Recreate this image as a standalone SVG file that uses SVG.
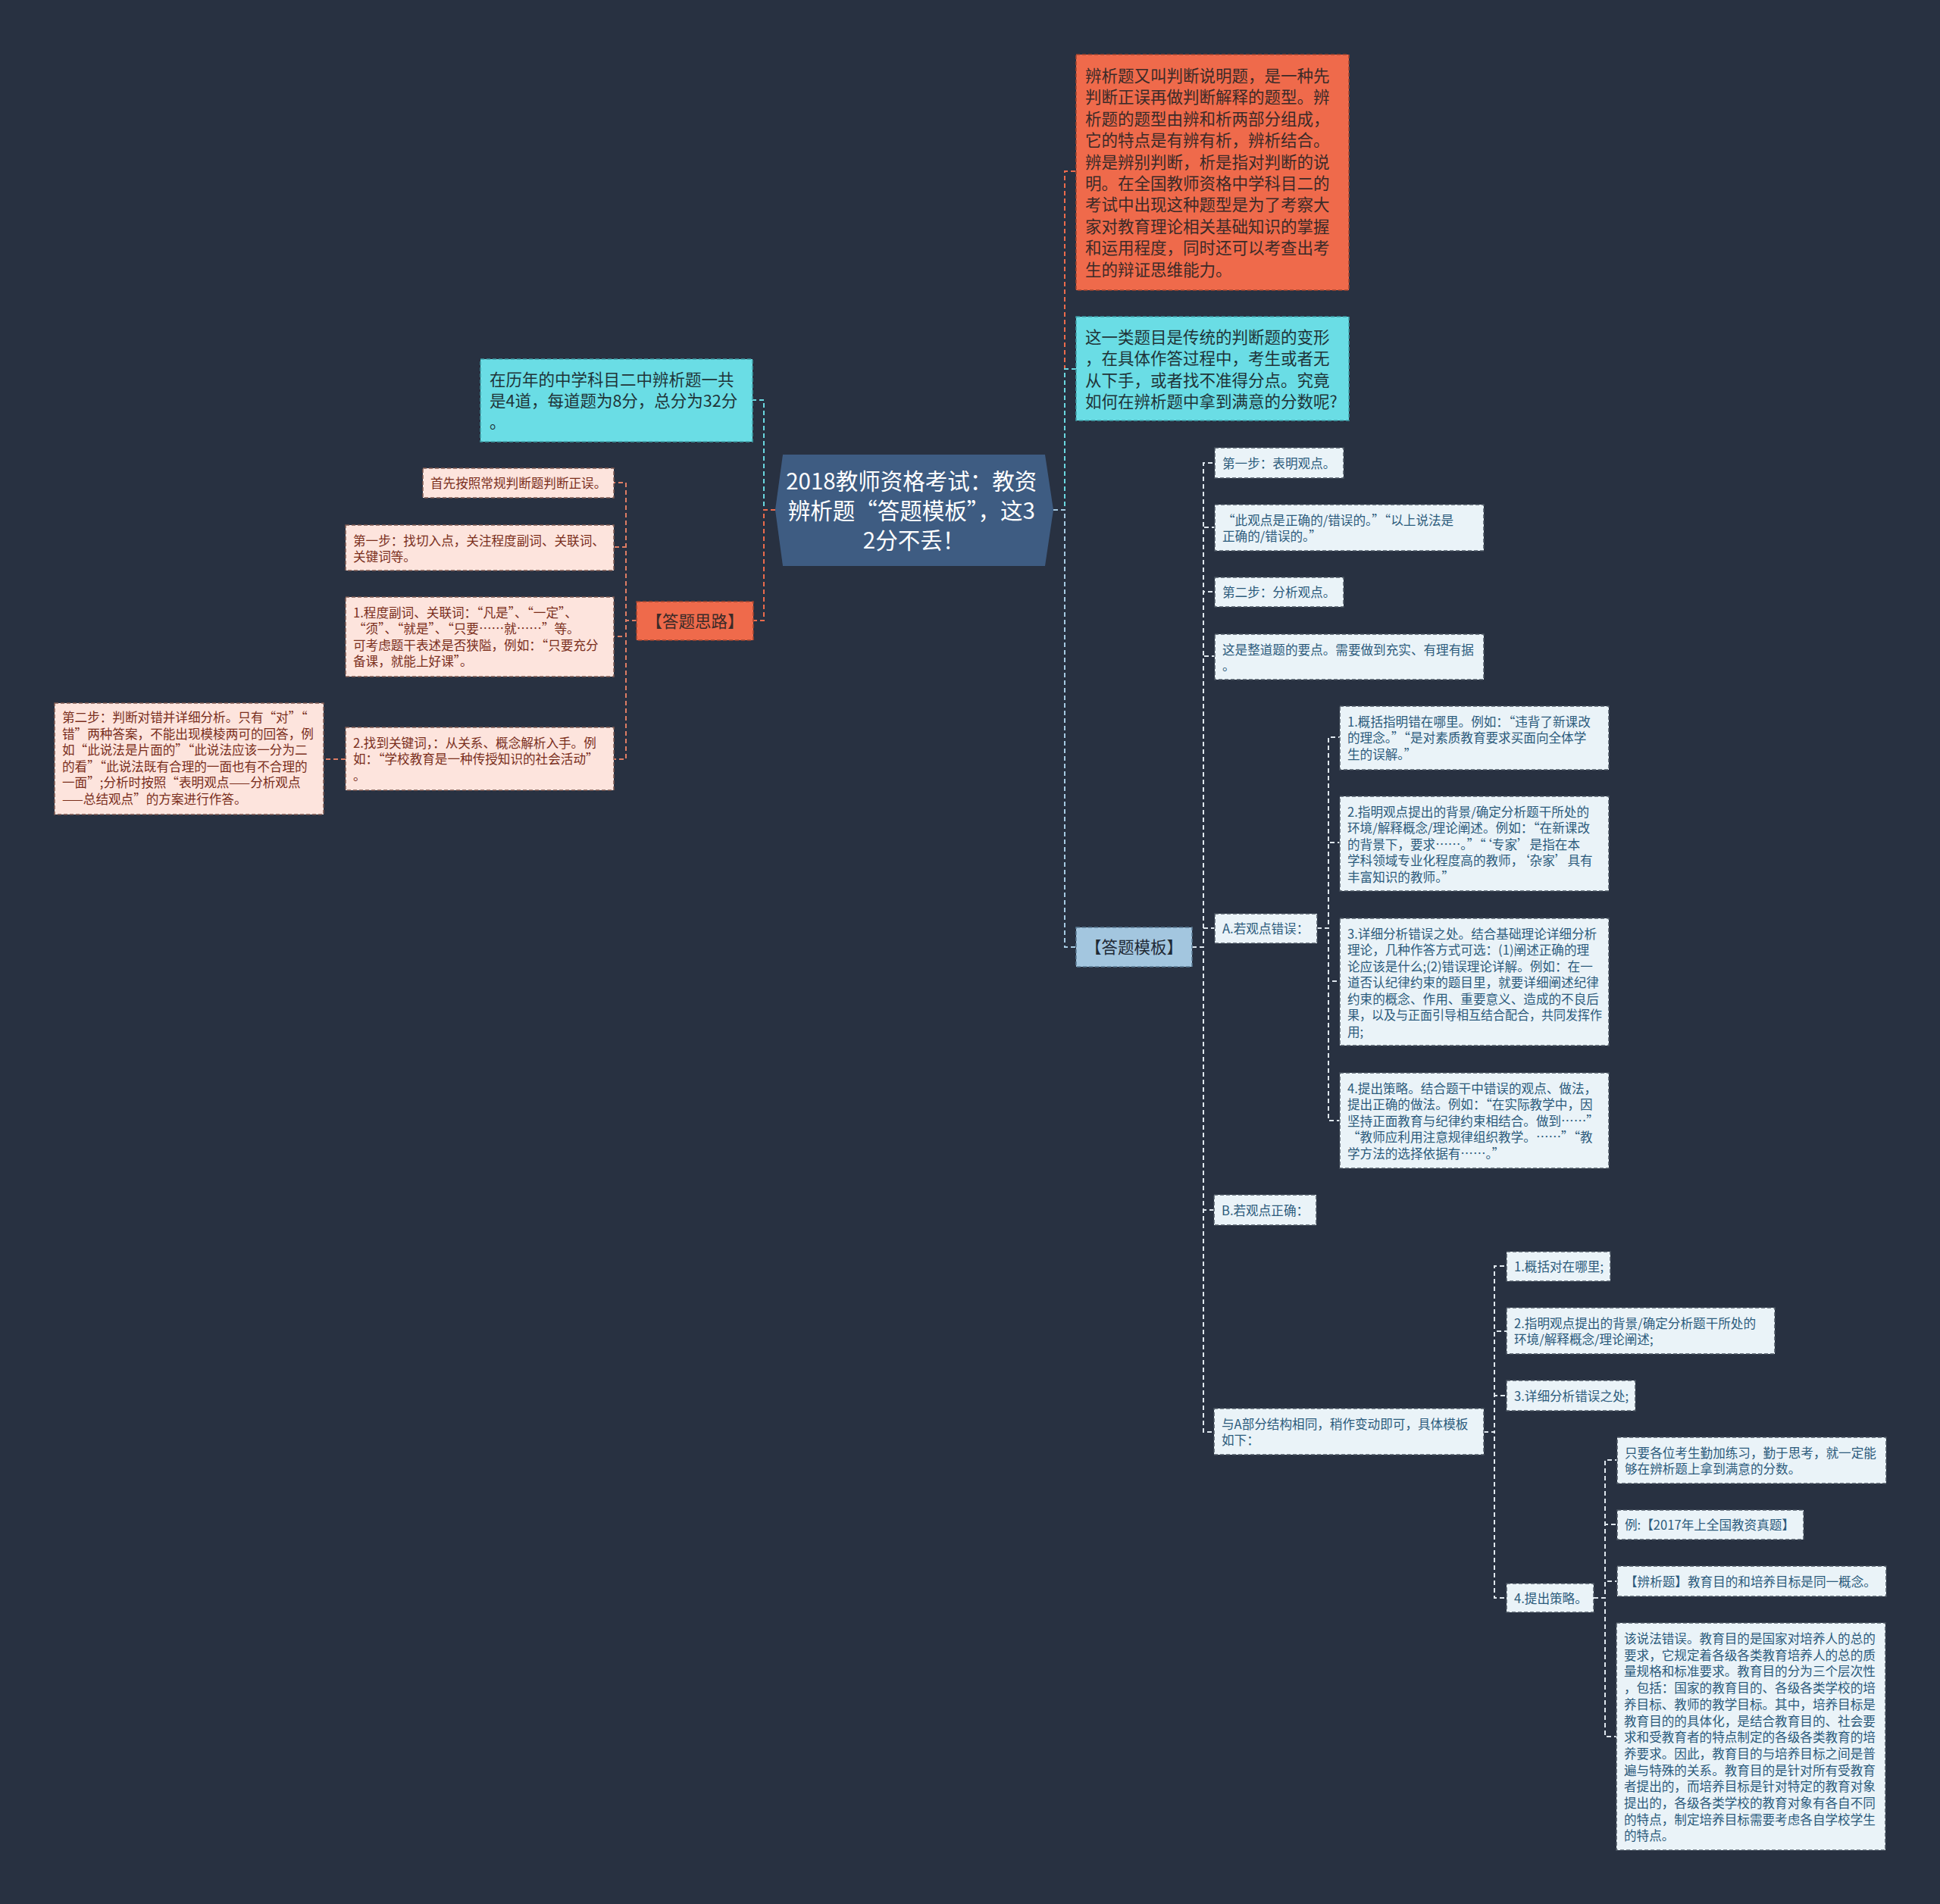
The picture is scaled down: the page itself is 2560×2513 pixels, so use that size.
<svg xmlns="http://www.w3.org/2000/svg" width="2560" height="2513" viewBox="0 0 2560 2513">
<style>
.t{font-family:"Noto Sans CJK SC","Noto Sans",sans-serif}
.s{font-size:16.6px}
.b{font-size:21.5px}
.nr{fill:#ef6a4b;stroke:#a0442f;stroke-width:1.5;stroke-dasharray:5 3}
.nc{fill:#6adde5;stroke:#3e9ea6;stroke-width:1.5;stroke-dasharray:5 3}
.nt{fill:#a3c6df;stroke:#5a7a93;stroke-width:1.5;stroke-dasharray:5 3}
.nl{fill:#eaf3f8;stroke:#4b5662;stroke-width:1.5;stroke-dasharray:5 3}
.np{fill:#fde4dd;stroke:#7d5a52;stroke-width:1.5;stroke-dasharray:5 3}
.tr{fill:#3b2a28}
.tc{fill:#1f3438}
.tl{fill:#2c5b7c}
.tp{fill:#7a2e1c}
.tt{fill:#1f2a36}
.c{fill:none;stroke-width:2;stroke-dasharray:6 4}
.co{stroke:#ec6b4c}
.cc{stroke:#6ad8e0}
.cb{stroke:#a6cae2}
.cw{stroke:#dfe7ee}
.cs{stroke:#df7d64}
</style>
<rect x="0" y="0" width="2560" height="2513" fill="#283141"/>

<g id="connectors">
  <path class="c co" d="M1390 673 H1405 V226 H1420"/>
  <path class="c cc" d="M1390 673 H1405 V487 H1420"/>
  <path class="c cb" d="M1390 673 H1405 V1250 H1420"/>
  <path class="c cc" d="M1023 673 H1008 V528 H993"/>
  <path class="c co" d="M1023 673 H1008 V819 H994"/>
  <path class="c cw" d="M1573 1250 H1588 V611 H1603"/>
  <path class="c cw" d="M1573 1250 H1588 V696 H1603"/>
  <path class="c cw" d="M1573 1250 H1588 V781 H1603"/>
  <path class="c cw" d="M1573 1250 H1588 V866 H1603"/>
  <path class="c cw" d="M1573 1250 H1588 V1225 H1603"/>
  <path class="c cw" d="M1573 1250 H1588 V1597 H1602"/>
  <path class="c cw" d="M1573 1250 H1588 V1890 H1602"/>
  <path class="c cw" d="M1738 1225 H1753 V973 H1768"/>
  <path class="c cw" d="M1738 1225 H1753 V1112 H1768"/>
  <path class="c cw" d="M1738 1225 H1753 V1295 H1768"/>
  <path class="c cw" d="M1738 1225 H1753 V1479 H1768"/>
  <path class="c cw" d="M1958 1890 H1972 V1671 H1988"/>
  <path class="c cw" d="M1958 1890 H1972 V1757 H1988"/>
  <path class="c cw" d="M1958 1890 H1972 V1842 H1988"/>
  <path class="c cw" d="M1958 1890 H1972 V2109 H1988"/>
  <path class="c cw" d="M2103 2109 H2118 V1927 H2134"/>
  <path class="c cw" d="M2103 2109 H2118 V2012 H2134"/>
  <path class="c cw" d="M2103 2109 H2118 V2087 H2134"/>
  <path class="c cw" d="M2103 2109 H2118 V2292 H2133"/>
  <path class="c cs" d="M840 819 H826 V637 H810"/>
  <path class="c cs" d="M840 819 H826 V722 H810"/>
  <path class="c cs" d="M840 819 H826 V840 H810"/>
  <path class="c cs" d="M840 819 H826 V1002 H810"/>
  <path class="c cs" d="M456 1002 H427"/>
</g>

<g id="root">
  <polygon points="1023,673 1033,600 1379,600 1390,673 1379,747 1033,747" fill="#3e5c82"/>
  <text class="t" font-size="29.5" fill="#ffffff" text-anchor="middle">
    <tspan x="1206" y="646">2018教师资格考试：教资</tspan>
    <tspan x="1206" y="685">辨析题“答题模板”，这3</tspan>
    <tspan x="1206" y="724">2分不丢！</tspan>
  </text>
</g>

<g id="n-intro">
  <rect class="nr" x="1420" y="72" width="360" height="311"/>
  <text class="t b tr">
    <tspan x="1432" y="108">辨析题又叫判断说明题，是一种先</tspan>
    <tspan x="1432" y="136.4">判断正误再做判断解释的题型。辨</tspan>
    <tspan x="1432" y="164.8">析题的题型由辨和析两部分组成，</tspan>
    <tspan x="1432" y="193.2">它的特点是有辨有析，辨析结合。</tspan>
    <tspan x="1432" y="221.6">辨是辨别判断，析是指对判断的说</tspan>
    <tspan x="1432" y="250">明。在全国教师资格中学科目二的</tspan>
    <tspan x="1432" y="278.4">考试中出现这种题型是为了考察大</tspan>
    <tspan x="1432" y="306.8">家对教育理论相关基础知识的掌握</tspan>
    <tspan x="1432" y="335.2">和运用程度，同时还可以考查出考</tspan>
    <tspan x="1432" y="363.6">生的辩证思维能力。</tspan>
  </text>
</g>

<g id="n-question">
  <rect class="nc" x="1420" y="418" width="360" height="137"/>
  <text class="t b tc">
    <tspan x="1432" y="453">这一类题目是传统的判断题的变形</tspan>
    <tspan x="1432" y="481.4">，在具体作答过程中，考生或者无</tspan>
    <tspan x="1432" y="509.8">从下手，或者找不准得分点。究竟</tspan>
    <tspan x="1432" y="538.2">如何在辨析题中拿到满意的分数呢?</tspan>
  </text>
</g>

<g id="n-history">
  <rect class="nc" x="634" y="474" width="359" height="109"/>
  <text class="t b tc">
    <tspan x="646" y="508.5">在历年的中学科目二中辨析题一共</tspan>
    <tspan x="646" y="536.9">是4道，每道题为8分，总分为32分</tspan>
    <tspan x="646" y="565.3">。</tspan>
  </text>
</g>

<g id="n-silu">
  <rect class="nr" x="840" y="794" width="154" height="51"/>
  <text class="t b tr" x="917" y="827.5" text-anchor="middle">【答题思路】</text>
</g>

<g id="n-silu-1">
  <rect class="np" x="558" y="618" width="252" height="39"/>
  <text class="t s tp" x="568" y="643.5">首先按照常规判断题判断正误。</text>
</g>
<g id="n-silu-2">
  <rect class="np" x="456" y="693" width="354" height="60"/>
  <text class="t s tp">
    <tspan x="466" y="719.5">第一步：找切入点，关注程度副词、关联词、</tspan>
    <tspan x="466" y="741">关键词等。</tspan>
  </text>
</g>
<g id="n-silu-3">
  <rect class="np" x="456" y="788" width="354" height="105"/>
  <text class="t s tp">
    <tspan x="466" y="814.5">1.程度副词、关联词：“凡是”、“一定”、</tspan>
    <tspan x="466" y="836">“须”、“就是”、“只要……就……”等。</tspan>
    <tspan x="466" y="857.5">可考虑题干表述是否狭隘，例如：“只要充分</tspan>
    <tspan x="466" y="879">备课，就能上好课”。</tspan>
  </text>
</g>
<g id="n-silu-4">
  <rect class="np" x="456" y="960" width="354" height="83"/>
  <text class="t s tp">
    <tspan x="466" y="986.5">2.找到关键词，：从关系、概念解析入手。例</tspan>
    <tspan x="466" y="1008">如：“学校教育是一种传授知识的社会活动”</tspan>
    <tspan x="466" y="1029.5">。</tspan>
  </text>
</g>
<g id="n-silu-4-1">
  <rect class="np" x="72" y="928" width="355" height="147"/>
  <text class="t s tp">
    <tspan x="82" y="953">第二步：判断对错并详细分析。只有“对”“</tspan>
    <tspan x="82" y="974.6">错”两种答案，不能出现模棱两可的回答，例</tspan>
    <tspan x="82" y="996.2">如“此说法是片面的”“此说法应该一分为二</tspan>
    <tspan x="82" y="1017.8">的看”“此说法既有合理的一面也有不合理的</tspan>
    <tspan x="82" y="1039.4">一面”;分析时按照“表明观点——分析观点</tspan>
    <tspan x="82" y="1061">——总结观点”的方案进行作答。</tspan>
  </text>
</g>

<g id="n-template">
  <rect class="nt" x="1420" y="1224" width="153" height="52"/>
  <text class="t b tt" x="1496.5" y="1258" text-anchor="middle">【答题模板】</text>
</g>

<g id="n-step1">
  <rect class="nl" x="1603" y="591" width="170" height="40"/>
  <text class="t s tl" x="1613" y="617.5">第一步：表明观点。</text>
</g>
<g id="n-step1-a">
  <rect class="nl" x="1603" y="666" width="355" height="61"/>
  <text class="t s tl">
    <tspan x="1613" y="692.5">“此观点是正确的/错误的。”“以上说法是</tspan>
    <tspan x="1613" y="714">正确的/错误的。”</tspan>
  </text>
</g>
<g id="n-step2">
  <rect class="nl" x="1603" y="762" width="170" height="39"/>
  <text class="t s tl" x="1613" y="788">第二步：分析观点。</text>
</g>
<g id="n-step2-a">
  <rect class="nl" x="1603" y="837" width="355" height="60"/>
  <text class="t s tl">
    <tspan x="1613" y="863.5">这是整道题的要点。需要做到充实、有理有据</tspan>
    <tspan x="1613" y="885">。</tspan>
  </text>
</g>
<g id="n-a">
  <rect class="nl" x="1603" y="1206" width="135" height="39"/>
  <text class="t s tl" x="1613" y="1232">A.若观点错误：</text>
</g>
<g id="n-a1">
  <rect class="nl" x="1768" y="932" width="355" height="84"/>
  <text class="t s tl">
    <tspan x="1778" y="958.5">1.概括指明错在哪里。例如：“违背了新课改</tspan>
    <tspan x="1778" y="980">的理念。”“是对素质教育要求买面向全体学</tspan>
    <tspan x="1778" y="1001.5">生的误解。”</tspan>
  </text>
</g>
<g id="n-a2">
  <rect class="nl" x="1768" y="1051" width="355" height="125"/>
  <text class="t s tl">
    <tspan x="1778" y="1077.5">2.指明观点提出的背景/确定分析题干所处的</tspan>
    <tspan x="1778" y="1099">环境/解释概念/理论阐述。例如：“在新课改</tspan>
    <tspan x="1778" y="1120.5">的背景下，要求……。”“‘专家’是指在本</tspan>
    <tspan x="1778" y="1142">学科领域专业化程度高的教师，‘杂家’具有</tspan>
    <tspan x="1778" y="1163.5">丰富知识的教师。”</tspan>
  </text>
</g>
<g id="n-a3">
  <rect class="nl" x="1768" y="1212" width="355" height="168"/>
  <text class="t s tl">
    <tspan x="1778" y="1238.5">3.详细分析错误之处。结合基础理论详细分析</tspan>
    <tspan x="1778" y="1260">理论，几种作答方式可选：(1)阐述正确的理</tspan>
    <tspan x="1778" y="1281.5">论应该是什么;(2)错误理论详解。例如：在一</tspan>
    <tspan x="1778" y="1303">道否认纪律约束的题目里，就要详细阐述纪律</tspan>
    <tspan x="1778" y="1324.5">约束的概念、作用、重要意义、造成的不良后</tspan>
    <tspan x="1778" y="1346" textLength="336" lengthAdjust="spacingAndGlyphs">果，以及与正面引导相互结合配合，共同发挥作</tspan>
    <tspan x="1778" y="1367.5">用;</tspan>
  </text>
</g>
<g id="n-a4">
  <rect class="nl" x="1768" y="1416" width="355" height="126"/>
  <text class="t s tl">
    <tspan x="1778" y="1442.5">4.提出策略。结合题干中错误的观点、做法，</tspan>
    <tspan x="1778" y="1464">提出正确的做法。例如：“在实际教学中，因</tspan>
    <tspan x="1778" y="1485.5">坚持正面教育与纪律约束相结合。做到……”</tspan>
    <tspan x="1778" y="1507">“教师应利用注意规律组织教学。……”“教</tspan>
    <tspan x="1778" y="1528.5">学方法的选择依据有……。”</tspan>
  </text>
</g>
<g id="n-b">
  <rect class="nl" x="1602" y="1577" width="135" height="40"/>
  <text class="t s tl" x="1612" y="1603.5">B.若观点正确：</text>
</g>
<g id="n-same">
  <rect class="nl" x="1602" y="1859" width="356" height="61"/>
  <text class="t s tl">
    <tspan x="1612" y="1885.5">与A部分结构相同，稍作变动即可，具体模板</tspan>
    <tspan x="1612" y="1907">如下：</tspan>
  </text>
</g>
<g id="n-b1">
  <rect class="nl" x="1988" y="1652" width="137" height="39"/>
  <text class="t s tl" x="1998" y="1678">1.概括对在哪里;</text>
</g>
<g id="n-b2">
  <rect class="nl" x="1988" y="1726" width="354" height="61"/>
  <text class="t s tl">
    <tspan x="1998" y="1752.5">2.指明观点提出的背景/确定分析题干所处的</tspan>
    <tspan x="1998" y="1774">环境/解释概念/理论阐述;</tspan>
  </text>
</g>
<g id="n-b3">
  <rect class="nl" x="1988" y="1822" width="170" height="40"/>
  <text class="t s tl" x="1998" y="1848.5">3.详细分析错误之处;</text>
</g>
<g id="n-b4">
  <rect class="nl" x="1988" y="2090" width="115" height="38"/>
  <text class="t s tl" x="1998" y="2115.5">4.提出策略。</text>
</g>
<g id="n-b4-1">
  <rect class="nl" x="2134" y="1897" width="355" height="61"/>
  <text class="t s tl">
    <tspan x="2144" y="1923.5">只要各位考生勤加练习，勤于思考，就一定能</tspan>
    <tspan x="2144" y="1945">够在辨析题上拿到满意的分数。</tspan>
  </text>
</g>
<g id="n-b4-2">
  <rect class="nl" x="2134" y="1993" width="246" height="39"/>
  <text class="t s tl" x="2144" y="2019">例:【2017年上全国教资真题】</text>
</g>
<g id="n-b4-3">
  <rect class="nl" x="2134" y="2067" width="355" height="40"/>
  <text class="t s tl" x="2144" y="2093.5">【辨析题】教育目的和培养目标是同一概念。</text>
</g>
<g id="n-b4-4">
  <rect class="nl" x="2133" y="2142" width="355" height="300"/>
  <text class="t s tl">
    <tspan x="2143" y="2169">该说法错误。教育目的是国家对培养人的总的</tspan>
    <tspan x="2143" y="2190.7">要求，它规定着各级各类教育培养人的总的质</tspan>
    <tspan x="2143" y="2212.4">量规格和标准要求。教育目的分为三个层次性</tspan>
    <tspan x="2143" y="2234.1">，包括：国家的教育目的、各级各类学校的培</tspan>
    <tspan x="2143" y="2255.8">养目标、教师的教学目标。其中，培养目标是</tspan>
    <tspan x="2143" y="2277.5">教育目的的具体化，是结合教育目的、社会要</tspan>
    <tspan x="2143" y="2299.2">求和受教育者的特点制定的各级各类教育的培</tspan>
    <tspan x="2143" y="2320.9">养要求。因此，教育目的与培养目标之间是普</tspan>
    <tspan x="2143" y="2342.6">遍与特殊的关系。教育目的是针对所有受教育</tspan>
    <tspan x="2143" y="2364.3">者提出的，而培养目标是针对特定的教育对象</tspan>
    <tspan x="2143" y="2386">提出的，各级各类学校的教育对象有各自不同</tspan>
    <tspan x="2143" y="2407.7">的特点，制定培养目标需要考虑各自学校学生</tspan>
    <tspan x="2143" y="2429.4">的特点。</tspan>
  </text>
</g>
</svg>
